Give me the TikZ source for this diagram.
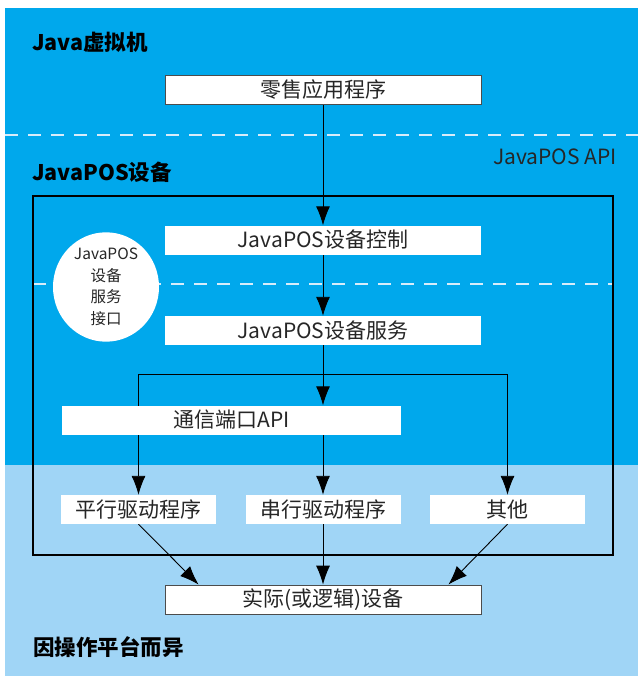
\documentclass[tikz,border=0pt]{standalone}
\usepackage{fontspec}
\setmainfont{Noto Sans CJK SC}
\usetikzlibrary{arrows.meta,shapes.geometric}
\definecolor{skyblue}{RGB}{0,168,236}
\definecolor{paleblue}{RGB}{160,213,246}
\definecolor{dashwhite}{RGB}{215,236,250}
\pgfdeclarelayer{back}
\pgfdeclarelayer{wires}
\pgfsetlayers{back,wires,main}
\begin{document}
\begin{tikzpicture}[x=1pt, y=-1pt,
	box/.style={fill=white, minimum width=316pt, minimum height=29pt, inner sep=0pt, text=black!85, font=\fontsize{21}{23}\selectfont},
	framed/.style={box, draw=black!70, line width=.8pt},
	oval/.style={ellipse, fill=white, minimum width=106pt, minimum height=100pt, inner sep=0pt, align=center, text=black!85, font=\fontsize{15.5}{21.5}\selectfont},
	title/.style={anchor=west, inner sep=0pt, font=\bfseries\fontsize{21.5}{23}\selectfont},
	wire/.style={line width=.9pt, ->, >={Latex[length=19pt,width=14pt]}},
	dashline/.style={dashwhite, line width=1.2pt, dash pattern=on 13pt off 10pt}]
	\useasboundingbox (0,0) rectangle (638,676);
	% titles
	\node[title] (jvm) at (32, 42) {Java虚拟机};
	\node[title] (pos) at (32, 172) {JavaPOS设备};
	\node[title] (os) at (33, 647) {因操作平台而异};
	\node[anchor=east, inner sep=0pt, text=black!85, font=\fontsize{21}{23}\selectfont] (api) at (617, 157) {JavaPOS API};
	% boxes
	\node[framed] (app) at (323, 90) {零售应用程序};
	\node[box] (ctrl) at (323, 240) {JavaPOS设备控制};
	\node[box] (svc) at (323, 330.5) {JavaPOS设备服务};
	\node[box, minimum width=339pt] (port) at (231.5, 420) {通信端口API};
	\node[box, minimum width=155pt] (par) at (138.5, 509.5) {平行驱动程序};
	\node[box, minimum width=155pt] (ser) at (323, 509.5) {串行驱动程序};
	\node[box, minimum width=155pt] (oth) at (507.5, 509.5) {其他};
	\node[framed] (dev) at (323, 599.5) {实际(或逻辑)设备};
	\node[oval] (ifc) at (106, 287) {JavaPOS\\设备\\服务\\接口};
	\coordinate (split) at (323, 374);
	\begin{pgfonlayer}{back}
		\fill[skyblue] (5,8) rectangle (638,465);
		\fill[paleblue] (5,465) rectangle (638,676);
		\draw[dashline] (5,135) -- (638,135);
		\draw[dashline] (33,284) -- (613,284);
		\draw[line width=2.4pt] (33,196) rectangle (613,555);
	\end{pgfonlayer}
	\begin{pgfonlayer}{wires}
		\draw[wire] (app) to (ctrl);
		\draw[wire] (ctrl) to (svc);
		\draw[wire] (svc) to (svc |- port.north);
		\draw[wire] (split) -| (par);
		\draw[wire] (split) -| (oth);
		\draw[wire] (ser |- port.south) to (ser);
		\draw[wire] (par.south) to ([xshift=34pt]dev.north west);
		\draw[wire] (ser) to (dev);
		\draw[wire] (oth.south) to ([xshift=-33pt]dev.north east);
	\end{pgfonlayer}
\end{tikzpicture}
\end{document}
